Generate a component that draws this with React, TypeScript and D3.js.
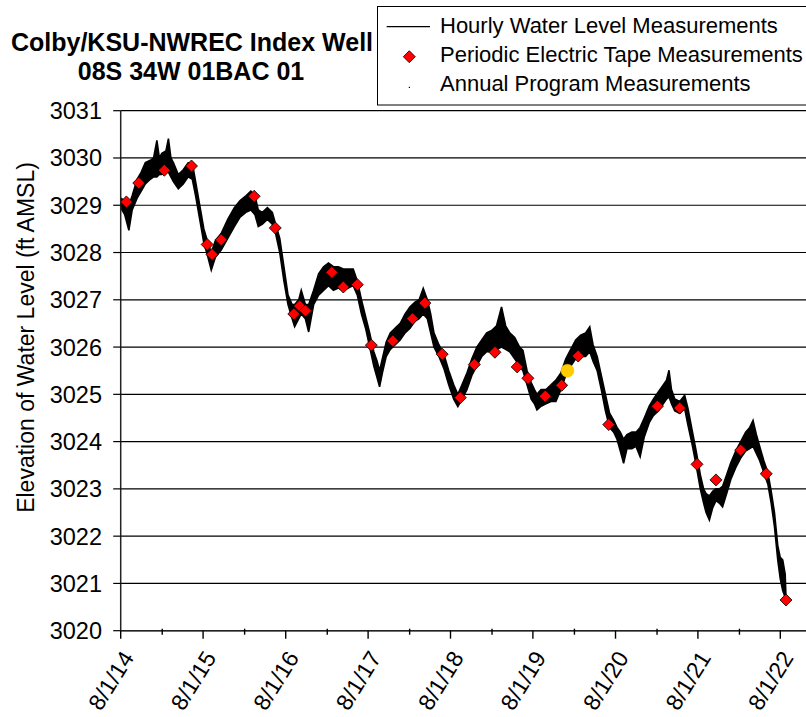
import React from 'react';
import * as d3 from 'd3';

// ---- Data ----
// Hourly water level record: envelope of the noisy hourly trace (decimal year, low, high)
const hourlyYear = [
  2014.58, 2014.63, 2014.68, 2014.72, 2014.78, 2014.83, 2014.88, 2014.94, 2014.98, 2015.02,
  2015.05, 2015.08, 2015.13, 2015.16, 2015.19, 2015.22, 2015.28, 2015.34, 2015.40, 2015.45,
  2015.49, 2015.54, 2015.59, 2015.64, 2015.68, 2015.73, 2015.80, 2015.88, 2015.96, 2016.03,
  2016.10, 2016.16, 2016.21, 2016.25, 2016.30, 2016.36, 2016.42, 2016.46, 2016.51, 2016.56,
  2016.61, 2016.66, 2016.69, 2016.74, 2016.77, 2016.82, 2016.86, 2016.92, 2016.98, 2017.04,
  2017.10, 2017.16, 2017.22, 2017.28, 2017.34, 2017.40, 2017.45, 2017.50, 2017.55, 2017.60,
  2017.65, 2017.69, 2017.72, 2017.76, 2017.80, 2017.85, 2017.91, 2017.97, 2018.03, 2018.09,
  2018.15, 2018.20, 2018.25, 2018.30, 2018.34, 2018.38, 2018.44, 2018.50, 2018.56, 2018.62,
  2018.67, 2018.72, 2018.78, 2018.84, 2018.90, 2018.96, 2019.02, 2019.08, 2019.14, 2019.20,
  2019.25, 2019.30, 2019.36, 2019.42, 2019.46, 2019.51, 2019.56, 2019.60, 2019.63, 2019.68,
  2019.74, 2019.80, 2019.86, 2019.92, 2019.98, 2020.04, 2020.10, 2020.16, 2020.22, 2020.27,
  2020.31, 2020.36, 2020.41, 2020.46, 2020.51, 2020.56, 2020.60, 2020.64, 2020.68, 2020.72,
  2020.78, 2020.83, 2020.88, 2020.93, 2020.99, 2021.04, 2021.10, 2021.16, 2021.20, 2021.23,
  2021.26, 2021.30, 2021.36, 2021.42, 2021.46, 2021.51, 2021.56, 2021.61, 2021.65, 2021.68,
  2021.72, 2021.76, 2021.80, 2021.84, 2021.88, 2021.93, 2021.98, 2022.04, 2022.10, 2022.16,
  2022.21, 2022.25, 2022.29, 2022.33, 2022.38, 2022.43, 2022.47, 2022.51, 2022.55, 2022.58,
  2022.61, 2022.64, 2022.65,
];
const hourlyLow = [
  3028.95, 3028.8, 3028.47, 3028.9, 3029.15, 3029.3, 3029.45, 3029.55, 3029.6, 3029.6,
  3029.65, 3029.65, 3029.7, 3029.7, 3029.6, 3029.5, 3029.35, 3029.45, 3029.6, 3029.55,
  3029.2, 3028.7, 3028.2, 3027.9, 3027.63, 3027.9, 3028.05, 3028.3, 3028.55, 3028.75,
  3028.85, 3028.9, 3028.8, 3028.55, 3028.6, 3028.7, 3028.6, 3028.4, 3028.0, 3027.4,
  3026.9, 3026.6, 3026.43, 3026.6, 3026.7, 3026.6, 3026.32, 3026.9, 3027.1, 3027.2,
  3027.3, 3027.2, 3027.25, 3027.2, 3027.25, 3027.3, 3027.1, 3026.7, 3026.4, 3026.0,
  3025.6, 3025.35, 3025.16, 3025.5, 3025.8, 3025.95, 3026.05, 3026.15, 3026.3, 3026.4,
  3026.55, 3026.6, 3026.7, 3026.6, 3026.3, 3026.0, 3025.8, 3025.55, 3025.2, 3024.9,
  3024.74, 3024.9, 3025.1, 3025.4, 3025.6, 3025.8, 3025.9, 3025.9, 3025.95, 3026.0,
  3025.95, 3025.9, 3025.75, 3025.6, 3025.5, 3025.2, 3024.9, 3024.8, 3024.67, 3024.75,
  3024.8, 3024.85, 3024.85, 3025.1, 3025.4, 3025.6, 3025.75, 3025.8, 3025.8, 3025.9,
  3025.7, 3025.5, 3025.1, 3024.65, 3024.3, 3024.2, 3024.05, 3023.8, 3023.54, 3023.85,
  3023.85, 3023.9, 3023.68, 3024.1, 3024.4, 3024.55, 3024.65, 3024.8, 3024.9, 3024.95,
  3024.8, 3024.65, 3024.6, 3024.7, 3024.35, 3023.95, 3023.5, 3023.0, 3022.7, 3022.5,
  3022.34, 3022.6, 3022.75, 3022.7, 3022.62, 3022.9, 3023.2, 3023.45, 3023.65, 3023.8,
  3023.85, 3023.9, 3023.75, 3023.6, 3023.35, 3023.1, 3022.7, 3022.2, 3021.5, 3021.1,
  3020.85, 3020.7, 3020.65,
];
const hourlyHigh = [
  3029.15, 3029.1, 3029.0, 3029.2, 3029.55, 3029.7, 3029.9, 3029.95, 3030.0, 3030.37,
  3030.0, 3030.1, 3030.15, 3030.41, 3030.0, 3029.9, 3029.65, 3029.75, 3029.9, 3029.9,
  3029.5, 3029.0, 3028.5, 3028.2, 3028.0, 3028.25, 3028.4, 3028.7, 3028.95, 3029.1,
  3029.2, 3029.3, 3029.2, 3028.9, 3028.85, 3028.95, 3028.85, 3028.6, 3028.3, 3027.7,
  3027.1, 3026.9, 3026.9, 3027.0, 3027.2, 3026.9, 3026.9, 3027.2, 3027.55, 3027.7,
  3027.78, 3027.7, 3027.7, 3027.65, 3027.65, 3027.65, 3027.4, 3027.0, 3026.65, 3026.3,
  3025.9, 3025.7, 3025.5, 3025.8, 3026.1, 3026.3, 3026.4, 3026.5, 3026.7, 3026.85,
  3026.95, 3027.0, 3027.24, 3027.0, 3026.7, 3026.3, 3026.05, 3025.85, 3025.5, 3025.2,
  3025.0, 3025.2, 3025.45, 3025.75, 3026.0, 3026.15, 3026.3, 3026.35, 3026.45, 3026.85,
  3026.45, 3026.3, 3026.2, 3026.0, 3025.93, 3025.5, 3025.25, 3025.1, 3025.0, 3025.1,
  3025.1, 3025.2, 3025.3, 3025.45, 3025.75, 3025.95, 3026.15, 3026.25, 3026.3, 3026.43,
  3026.05, 3025.8, 3025.4, 3025.0, 3024.6, 3024.45, 3024.3, 3024.2, 3024.05, 3024.15,
  3024.2, 3024.2, 3024.3, 3024.5, 3024.75, 3024.9, 3025.05, 3025.2, 3025.3, 3025.51,
  3025.1, 3024.9, 3024.85, 3024.98, 3024.7, 3024.25, 3023.8, 3023.3, 3023.0, 3022.9,
  3022.85, 3022.95, 3023.0, 3023.0, 3023.05, 3023.3, 3023.55, 3023.8, 3024.0, 3024.2,
  3024.3, 3024.45, 3024.15, 3023.9, 3023.6, 3023.35, 3022.95, 3022.5, 3021.8, 3021.55,
  3021.5, 3021.2, 3020.7,
];

// Periodic electric tape measurements
const tapeYear = [
  2014.65, 2014.80, 2015.11, 2015.44, 2015.63, 2015.69, 2015.80, 2016.20, 2016.455, 2016.68,
  2016.75, 2016.82, 2017.14, 2017.28, 2017.45, 2017.62, 2017.88, 2018.12, 2018.27, 2018.48,
  2018.70, 2018.87, 2019.12, 2019.39, 2019.52, 2019.73, 2019.93, 2020.13, 2020.50, 2021.09,
  2021.36, 2021.57, 2021.80, 2022.10, 2022.41, 2022.65,
];
const tapeLevel = [
  3029.07, 3029.47, 3029.74, 3029.83, 3028.17, 3027.96, 3028.27, 3029.19, 3028.52, 3026.70,
  3026.87, 3026.77, 3027.58, 3027.27, 3027.32, 3026.04, 3026.13, 3026.60, 3026.93, 3025.85,
  3024.93, 3025.63, 3025.89, 3025.58, 3025.34, 3024.96, 3025.19, 3025.81, 3024.36, 3024.75,
  3024.71, 3023.52, 3023.19, 3023.82, 3023.32, 3020.65,
];

// Annual program measurement
const annualYear = [2020.0];
const annualLevel = [3025.5];

// Axis ticks
const yTicks = [3020, 3021, 3022, 3023, 3024, 3025, 3026, 3027, 3028, 3029, 3030, 3031];
const xTickDates = ['2014-08-01', '2015-08-01', '2016-08-01', '2017-08-01', '2018-08-01',
  '2019-08-01', '2020-08-01', '2021-08-01', '2022-08-01'];
const xTickLabels = ['8/1/14', '8/1/15', '8/1/16', '8/1/17', '8/1/18', '8/1/19', '8/1/20', '8/1/21', '8/1/22'];
const xMinorDates = ['2015-02-01', '2016-02-01', '2017-02-01', '2018-02-01', '2019-02-01',
  '2020-02-01', '2021-02-01', '2022-02-01'];

const titleLines = ['Colby/KSU-NWREC Index Well', '08S 34W 01BAC 01'];
const legendLabels = ['Hourly Water Level Measurements', 'Periodic Electric Tape Measurements', 'Annual Program Measurements'];
const yAxisLabel = 'Elevation of Water Level (ft AMSL)';

function decYear(v: number): Date {
  const yr = Math.floor(v);
  const s = new Date(yr, 0, 1).getTime();
  const e = new Date(yr + 1, 0, 1).getTime();
  return new Date(s + (v - yr) * (e - s));
}
function parseDate(s: string): Date {
  const [a, b, c] = s.split('-').map(Number);
  return new Date(a, b - 1, c);
}

const FONT = "'Liberation Sans', Arial, Helvetica, sans-serif";

function diamond(cx: number, cy: number, r: number) {
  return `M${cx},${cy - r}L${cx + r},${cy}L${cx},${cy + r}L${cx - r},${cy}Z`;
}

export default function App() {
  const W = 806, H = 717;
  const left = 120.7, bottom = 630.7, top = 110.7, right = 806;
  const x = d3.scaleTime()
    .domain([parseDate('2014-08-01'), parseDate('2022-08-01')])
    .range([left, 780.3]);
  const y = d3.scaleLinear().domain([3020, 3031]).range([bottom, top]);

  const idx = d3.range(hourlyYear.length);
  const area = d3.area<number>()
    .x((i) => x(decYear(hourlyYear[i])))
    .y0((i) => y(hourlyLow[i]))
    .y1((i) => y(hourlyHigh[i]));
  const lowLine = d3.line<number>().x((i) => x(decYear(hourlyYear[i]))).y((i) => y(hourlyLow[i]));
  const highLine = d3.line<number>().x((i) => x(decYear(hourlyYear[i]))).y((i) => y(hourlyHigh[i]));

  return (
    <svg width={W} height={H} style={{ position: 'absolute', left: 0, top: 0, background: '#fff' }}
      fontFamily={FONT}>
      <rect x={0} y={0} width={W} height={H} fill="#fff" />
      {/* Title */}
      <text x={192} y={50.7} textAnchor="middle" fontSize={25} fontWeight="bold">{titleLines[0]}</text>
      <text x={191} y={80} textAnchor="middle" fontSize={25} fontWeight="bold">{titleLines[1]}</text>

      {/* Gridlines */}
      {yTicks.map((t) => (
        <line key={'g' + t} x1={left} x2={right} y1={y(t)} y2={y(t)} stroke="#000" strokeWidth={1.2} />
      ))}

      {/* Hourly trace */}
      <path d={area(idx) || ''} fill="#000" stroke="none" />
      <path d={lowLine(idx) || ''} fill="none" stroke="#000" strokeWidth={1.6} />
      <path d={highLine(idx) || ''} fill="none" stroke="#000" strokeWidth={1.6} />

      {/* Tape measurements */}
      {tapeYear.map((yr, i) => (
        <path key={'d' + i} d={diamond(x(decYear(yr)), y(tapeLevel[i]), 6)} fill="#ff0000" stroke="#000" strokeWidth={0.8} />
      ))}
      {/* Annual program */}
      {annualYear.map((yr, i) => (
        <circle key={'a' + i} cx={x(decYear(yr))} cy={y(annualLevel[i])} r={6.5} fill="#ffcc00" stroke="#f2c200" strokeWidth={0.5} />
      ))}

      {/* Axes */}
      <line x1={left} x2={left} y1={top} y2={bottom} stroke="#222" strokeWidth={1.5} />
      <line x1={left} x2={right} y1={bottom} y2={bottom} stroke="#222" strokeWidth={1.6} />
      {yTicks.map((t) => (
        <g key={'yt' + t}>
          <line x1={left - 7.5} x2={left} y1={y(t)} y2={y(t)} stroke="#000" strokeWidth={1.2} />
          <text x={102} y={y(t)} dy="0.36em" textAnchor="end" fontSize={23.5}>{t}</text>
        </g>
      ))}
      {xTickDates.map((d, i) => {
        const px = x(parseDate(d));
        return (
          <g key={'xt' + d}>
            <line x1={px} x2={px} y1={bottom} y2={bottom + 8} stroke="#000" strokeWidth={1.4} />
            <text transform={`translate(${px + 14},${bottom + 27}) rotate(-58)`} textAnchor="end" fontSize={23}>{xTickLabels[i]}</text>
          </g>
        );
      })}
      {xMinorDates.map((d) => {
        const px = x(parseDate(d));
        return <line key={'xm' + d} x1={px} x2={px} y1={bottom - 2} y2={bottom + 4} stroke="#000" strokeWidth={1.4} />;
      })}

      {/* Y axis label */}
      <text transform={`translate(33.5,337.5) rotate(-90)`} textAnchor="middle" fontSize={23}>{yAxisLabel}</text>

      {/* Legend */}
      <rect x={377.5} y={6.5} width={440} height={98.5} fill="#fff" stroke="#000" strokeWidth={1} />
      <line x1={386.7} x2={430} y1={26.7} y2={26.7} stroke="#000" strokeWidth={1.2} />
      <text x={440} y={33.3} fontSize={22}>{legendLabels[0]}</text>
      <path d={diamond(409.3, 56.7, 6)} fill="#ff0000" stroke="#000" strokeWidth={0.8} />
      <text x={440} y={62} fontSize={22}>{legendLabels[1]}</text>
      <rect x={408.8} y={86.8} width={1.2} height={1.2} fill="#000" />
      <text x={440} y={90.7} fontSize={22}>{legendLabels[2]}</text>
    </svg>
  );
}
